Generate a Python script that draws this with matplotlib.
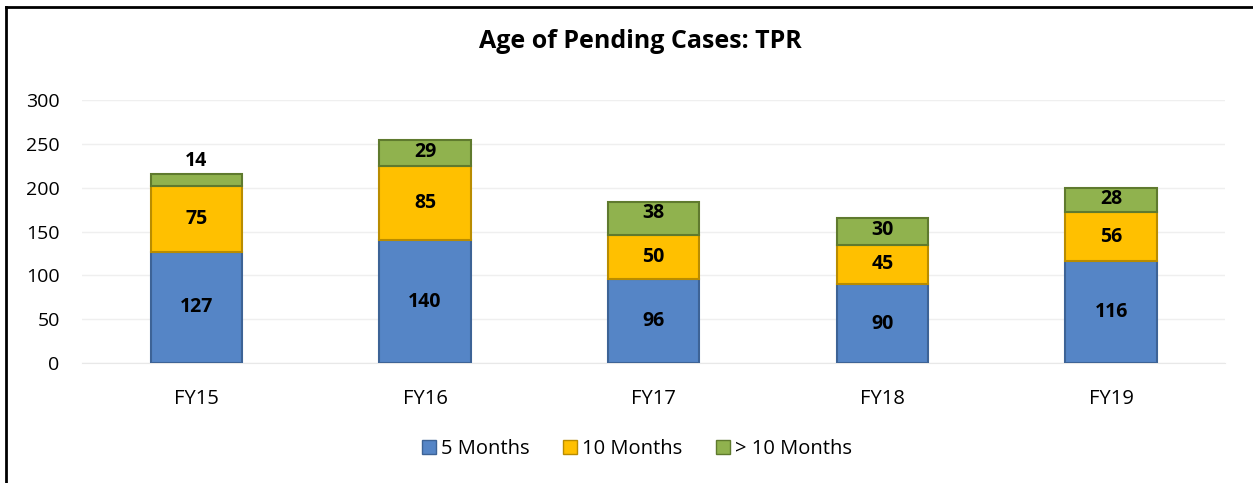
import matplotlib.pyplot as plt
import numpy as np
from matplotlib.lines import Line2D

plt.rcParams['font.family'] = ['Open Sans', 'DejaVu Sans']

# data
years = ['FY15', 'FY16', 'FY17', 'FY18', 'FY19']
m5 = [127, 140, 96, 90, 116]
m10 = [75, 85, 50, 45, 56]
m10plus = [14, 29, 38, 30, 28]

series = [
    ('5 Months', m5, '#5585C6', '#3D6396'),
    ('10 Months', m10, '#FFC000', '#B98C00'),
    ('> 10 Months', m10plus, '#90B24E', '#5F7A2E'),
]

fig = plt.figure(figsize=(12.53, 4.83), dpi=100)
ax = fig.add_axes([0.0654, 0.2484, 0.9126, 0.5446])

x = np.arange(len(years))
bottom = np.zeros(len(years))
for name, vals, col, edge in series:
    vals = np.array(vals, dtype=float)
    ax.bar(x, vals, width=0.4, bottom=bottom, color=col,
           edgecolor=edge, linewidth=1.5, label=name, zorder=3)
    for xi, b, v in zip(x, bottom, vals):
        if name == '> 10 Months':
            if v < 20:
                ax.text(xi, b + v + 3, f'{int(v)}', ha='center', va='bottom',
                        fontsize=14, fontweight='bold', zorder=4)
            else:
                ax.text(xi, b + v - 1.5, f'{int(v)}', ha='center', va='top',
                        fontsize=14, fontweight='bold', zorder=4)
        else:
            ax.text(xi, b + v / 2, f'{int(v)}', ha='center', va='center',
                    fontsize=14, fontweight='bold', zorder=4)
    bottom += vals

ax.set_xlim(-0.5, len(years) - 0.5)
ax.set_ylim(0, 300)
ax.set_yticks(range(0, 301, 50))
ax.set_xticks(x)
ax.set_xticklabels(years)
ax.tick_params(axis='both', length=0, labelsize=14)
ax.tick_params(axis='x', labelsize=14.5, pad=19)
ax.tick_params(axis='y', pad=16)
ax.yaxis.grid(True, color='#EFEFEF', linewidth=1, zorder=0)
for s in ['top', 'right', 'left']:
    ax.spines[s].set_visible(False)
ax.spines['bottom'].set_color('#E8E8E8')

fig.text(0.511, 0.915, 'Age of Pending Cases: TPR', ha='center', va='center',
         fontsize=18, fontweight='bold')

handles = [Line2D([], [], marker='s', linestyle='none', markersize=10,
                  markerfacecolor=col, markeredgecolor=edge, markeredgewidth=1)
           for _, _, col, edge in series]
fig.legend(handles, [s[0] for s in series], loc='center',
           bbox_to_anchor=(0.507, 0.07), ncol=3, frameon=False,
           fontsize=14.5, handletextpad=0.1, columnspacing=1.5, handlelength=1.0)

# outer frame (left and top lines)
fig.add_artist(Line2D([0.005, 0.005], [0, 0.986], color='black', lw=2,
                      transform=fig.transFigure))
fig.add_artist(Line2D([0.005, 1], [0.986, 0.986], color='black', lw=2,
                      transform=fig.transFigure))

fig.savefig('out.png', dpi=100)
